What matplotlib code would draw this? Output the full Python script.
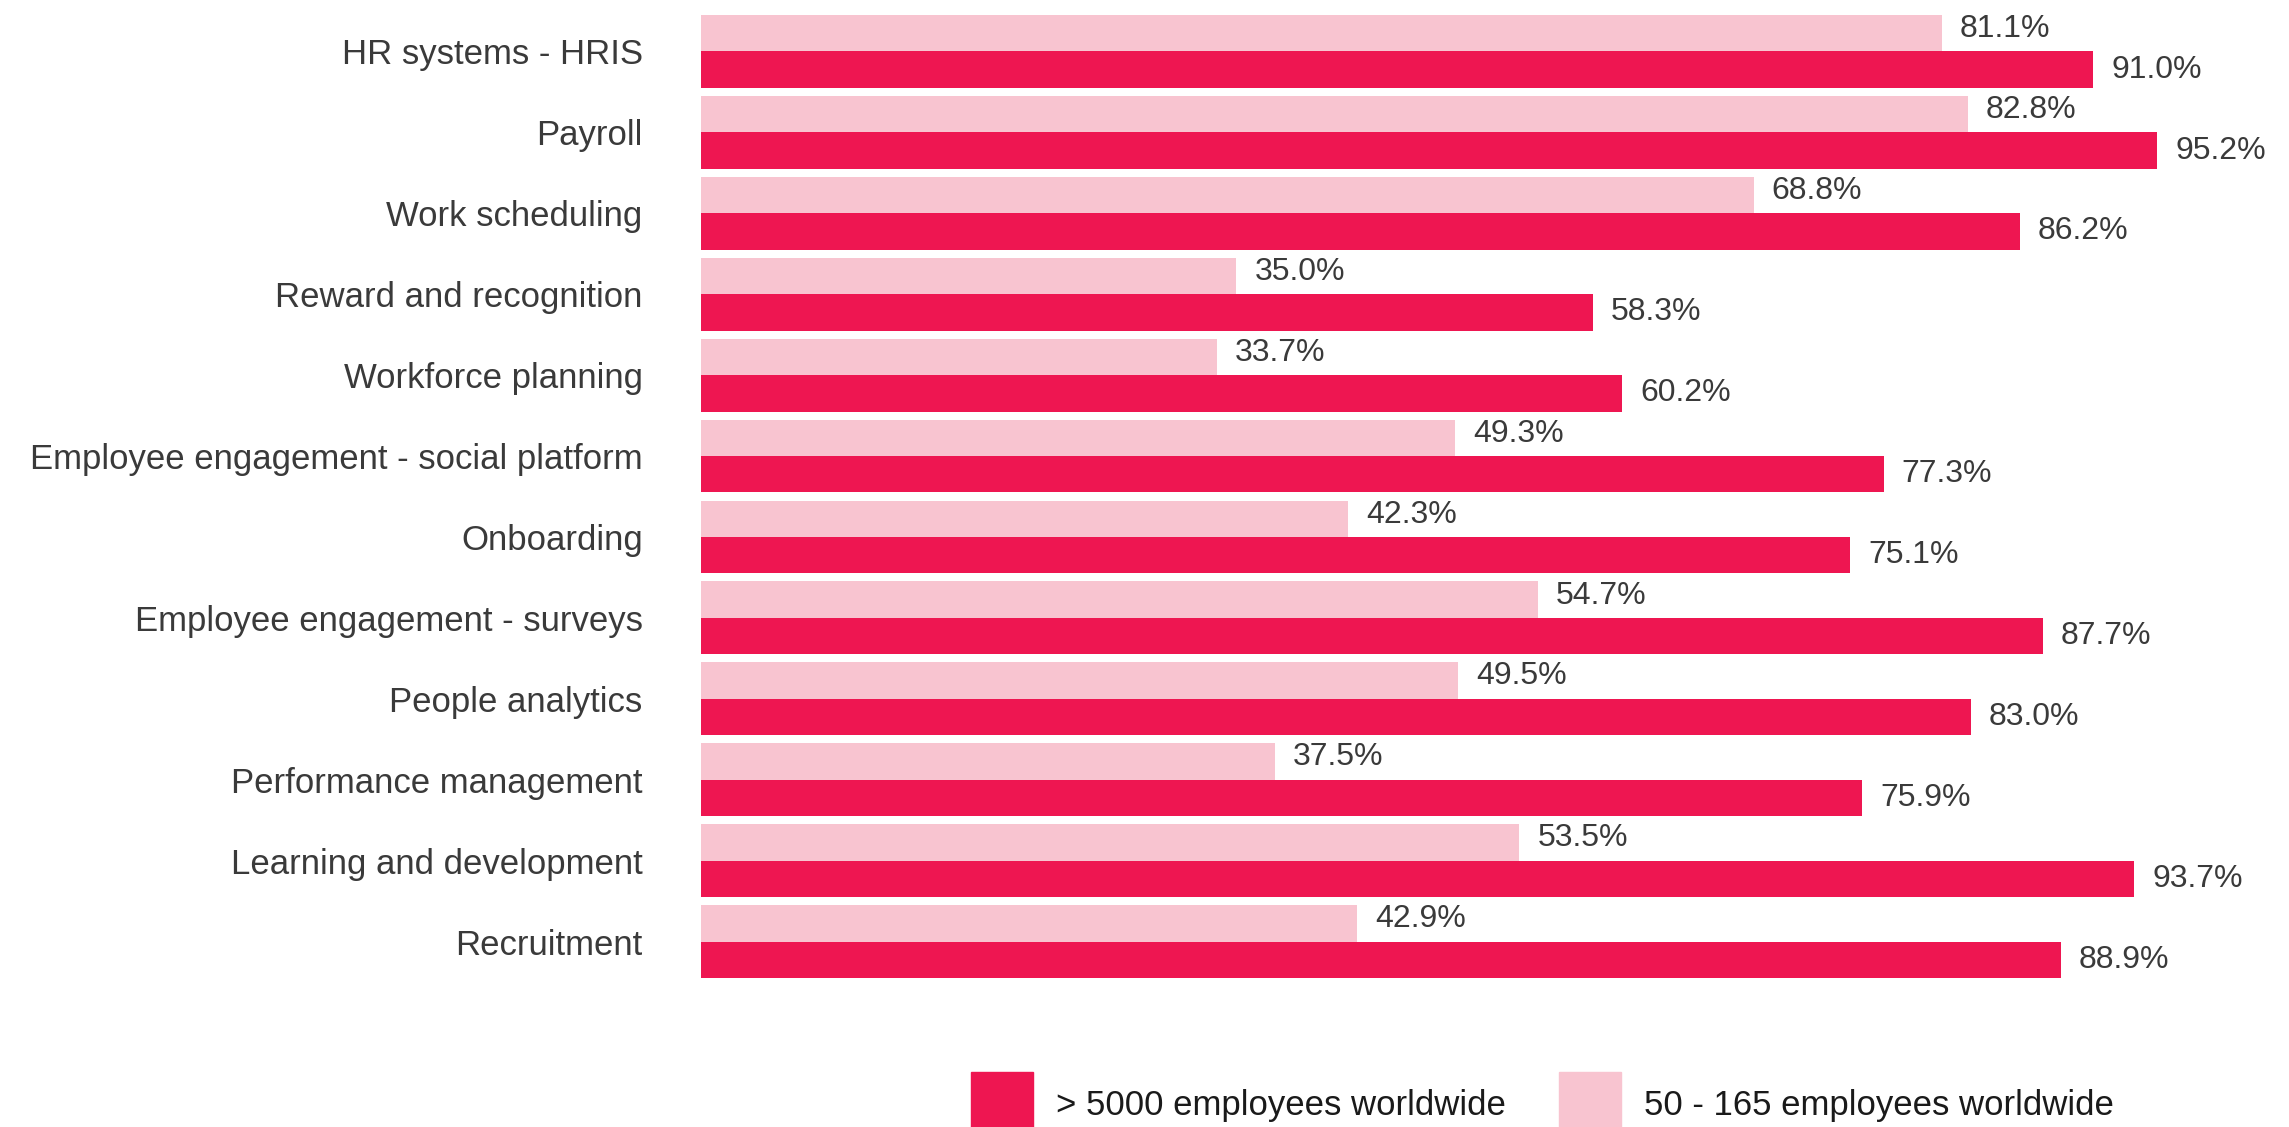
import matplotlib
matplotlib.use("Agg")
import matplotlib.pyplot as plt
import matplotlib.patches as mpatches
import numpy as np

plt.rcParams['font.family'] = ['Liberation Sans', 'DejaVu Sans']

# data (top to bottom)
categories = ["HR systems - HRIS", "Payroll", "Work scheduling", "Reward and recognition",
              "Workforce planning", "Employee engagement - social platform", "Onboarding",
              "Employee engagement - surveys", "People analytics", "Performance management",
              "Learning and development", "Recruitment"]
large = [91.0, 95.2, 86.2, 58.3, 60.2, 77.3, 75.1, 87.7, 83.0, 75.9, 93.7, 88.9]
small = [81.1, 82.8, 68.8, 35.0, 33.7, 49.3, 42.3, 54.7, 49.5, 37.5, 53.5, 42.9]
series_names = ["> 5000 employees worldwide", "50 - 165 employees worldwide"]

red = "#EE1651"
pink = "#F8C4D0"
txt = "#3a3a3a"

W, H = 2289, 1127
fig = plt.figure(figsize=(W / 100, H / 100), dpi=100)
ax = fig.add_axes([701 / W, 1 - 978 / H, 1 - 701 / W, (978 - 15) / H])

y = np.arange(len(categories))
h = 0.45
ax.barh(y - h / 2, small, height=h, color=pink)
ax.barh(y + h / 2, large, height=h, color=red)

for i in range(len(categories)):
    ax.annotate(f"{small[i]:.1f}%", (small[i], y[i] - h / 2), xytext=(13, 3),
                textcoords="offset points", va="center", ha="left", fontsize=23, color=txt)
    ax.annotate(f"{large[i]:.1f}%", (large[i], y[i] + h / 2), xytext=(13, 0),
                textcoords="offset points", va="center", ha="left", fontsize=23, color=txt)

ax.set_xlim(0, 103.8)
ax.set_ylim(len(categories) - 1 + h, -h)
ax.set_yticks(y)
ax.set_yticklabels(categories, fontsize=25, color=txt)
ax.tick_params(axis="y", length=0, pad=42)
ax.set_xticks([])
for s in ax.spines.values():
    s.set_visible(False)

handles = [mpatches.Patch(color=red, label=series_names[0]),
           mpatches.Patch(color=pink, label=series_names[1])]
fig.legend(handles=handles, loc="center", bbox_to_anchor=(0.6737, 0.0204), ncol=2,
           frameon=False, fontsize=25, handlelength=1.79, handleheight=2.5,
           handletextpad=0.66, columnspacing=1.53, labelcolor="#1a1a1a")

fig.savefig("out.png", dpi=100)
